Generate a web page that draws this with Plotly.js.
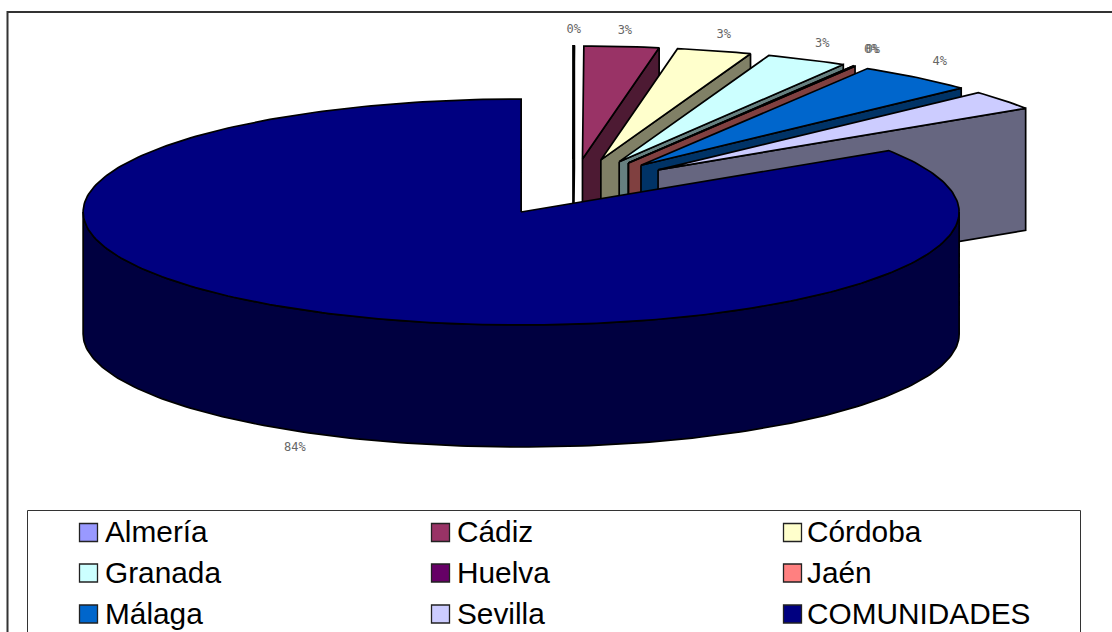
<!DOCTYPE html>
<html><head><meta charset="utf-8">
<script src="https://cdn.plot.ly/plotly-3.0.1.min.js"></script>
<style>html,body{margin:0;padding:0;background:#fff;overflow:hidden}#c{width:1112px;height:632px}</style>
</head><body><div id="c"></div>
<script>
const categories = ["Almería","Cádiz","Córdoba","Granada","Huelva","Jaén","Málaga","Sevilla","COMUNIDADES"];
const shares = [0.05,2.75,2.75,3.0,0.03,0.07,4.4,2.8,84.15];
const shownLabels = ["0%","3%","3%","3%","0%","0%","4%","","84%"];
const faceColors = ["#9999FF","#993366","#FFFFCC","#CCFFFF","#660066","#FF8080","#0066CC","#CCCCFF","#000080"];
const sideColors = ["#4D4D80","#4D1A33","#808066","#668080","#330033","#804040","#003366","#666680","#000040"];

const cx=572.8, cy=187.2, rx=438, ry=113, depth=122, explodeX=0.247, explodeY=0.25;
const rad=d=>d*Math.PI/180;
const total=shares.reduce((a,b)=>a+b,0);
const traces=[];
function poly(pts,fill){
  const p=pts.concat([pts[0]]);
  traces.push({type:'scatter',mode:'lines',x:p.map(q=>q[0]),y:p.map(q=>q[1]),fill:'toself',fillcolor:fill,
    line:{color:'#000',width:1.7,shape:'linear'},hoverinfo:'skip',showlegend:false});
}
let acc=0; const labelX=[],labelY=[],labelT=[];
categories.forEach((name,i)=>{
  const a0=acc/total*360; acc+=shares[i]; const a1=acc/total*360; const mid=(a0+a1)/2;
  const ax=cx+explodeX*rx*Math.sin(rad(mid)), ay=cy-explodeY*ry*Math.cos(rad(mid));
  const rim=t=>[ax+rx*Math.sin(rad(t)),ay-ry*Math.cos(rad(t))];
  const arc=[]; const n=Math.max(2,Math.ceil((a1-a0)/1));
  for(let k=0;k<=n;k++) arc.push(rim(a0+(a1-a0)*k/n));
  if(a1-a0<180){
    const e=rim(a1);
    poly([[ax,ay],e,[e[0],e[1]+depth],[ax,ay+depth]],sideColors[i]);
  } else {
    const low=[]; for(let t=90;t<=270;t+=1) low.push(rim(t));
    poly(low.concat(low.slice().reverse().map(q=>[q[0],q[1]+depth])),sideColors[i]);
  }
  poly([[ax,ay]].concat(arc),faceColors[i]);
  const r=rim(mid), lower=Math.cos(rad(mid))<0;
  if(shownLabels[i]){
    labelX.push(r[0]+(lower?-17:36*Math.sin(rad(mid))));
    labelY.push(r[1]+(lower?depth+15:-16));
    labelT.push(shownLabels[i]);
  }
});
traces.push({type:'scatter',mode:'text',x:labelX,y:labelY,text:labelT,textposition:'middle center',
  textfont:{family:'"DejaVu Sans Mono",monospace',size:12,color:'#666'},hoverinfo:'skip',showlegend:false});

const colSwatch=[88.5,440.5,792.5], colText=[105,457,807], rowY=[532.5,573,614];
const legX=[],legY=[],legC=[],txtX=[],txtY=[];
categories.forEach((n,i)=>{const c=i%3,r=Math.floor(i/3);
  legX.push(colSwatch[c]);legY.push(rowY[r]);legC.push(faceColors[i]);txtX.push(colText[c]);txtY.push(rowY[r]+2.5);});
traces.push({type:'scatter',mode:'markers',x:legX,y:legY,marker:{symbol:'square',size:18,color:legC,line:{color:'#222',width:1.3}},hoverinfo:'skip',showlegend:false});
traces.push({type:'scatter',mode:'text',x:txtX,y:txtY,text:categories,textposition:'middle right',
  textfont:{family:'"Liberation Sans",Arial,sans-serif',size:29.8,color:'#000'},hoverinfo:'skip',showlegend:false,cliponaxis:false});

const hidden={visible:false,fixedrange:true};
Plotly.newPlot('c',traces,{
  width:1112,height:632,margin:{l:0,r:0,t:0,b:0},paper_bgcolor:'#fff',plot_bgcolor:'#fff',showlegend:false,
  xaxis:Object.assign({range:[0,1112]},hidden),
  yaxis:Object.assign({range:[632,0]},hidden),
  shapes:[
    {type:'rect',xref:'x',yref:'y',x0:7.5,y0:12,x1:1130,y1:660,line:{color:'#333',width:2},layer:'below'},
    {type:'rect',xref:'x',yref:'y',x0:27.5,y0:510.5,x1:1080.5,y1:660,line:{color:'#333',width:1},layer:'below'}
  ]
},{displayModeBar:false,staticPlot:true});
</script></body></html>
